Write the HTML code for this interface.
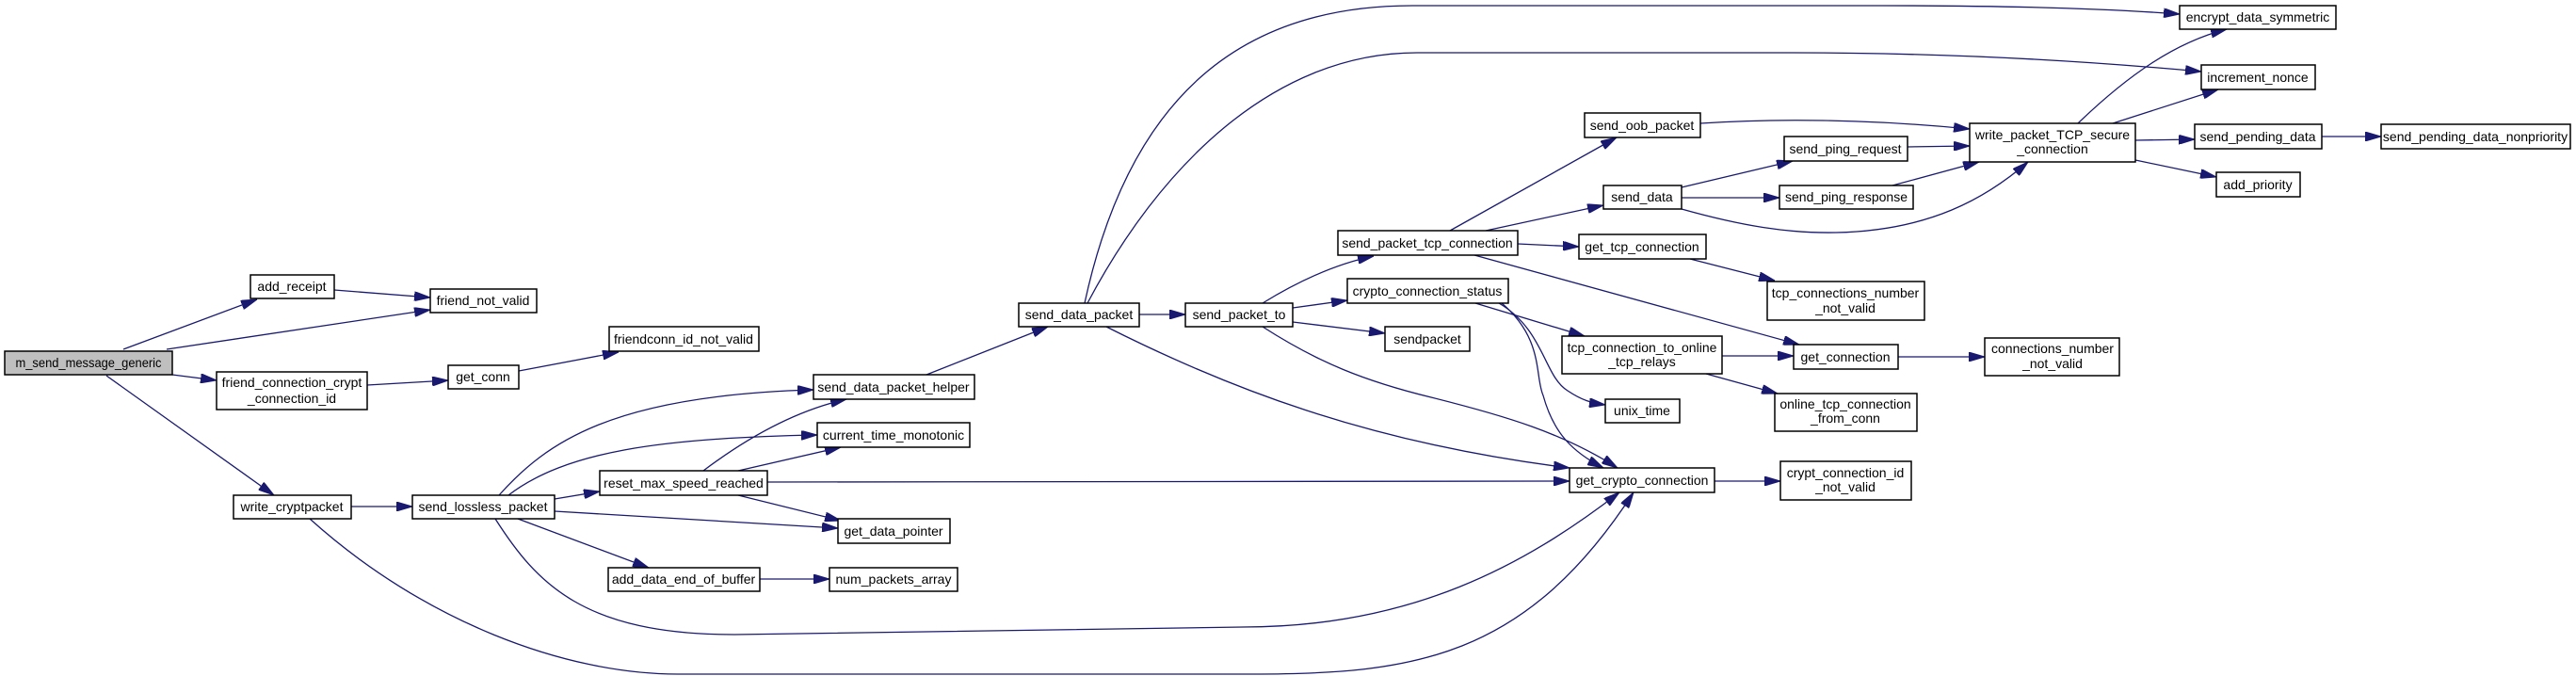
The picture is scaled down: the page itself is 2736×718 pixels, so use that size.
<!DOCTYPE html>
<html><head><meta charset="utf-8"><style>
html,body{margin:0;padding:0;background:#fff;}
svg{display:block;}
text{font-family:"Liberation Sans",sans-serif;font-size:14px;fill:#000;}
.n{fill:#fff;stroke:#000;stroke-width:1.5;}
.e{fill:none;stroke:#191970;stroke-width:1.3;marker-end:url(#a);}
</style></head><body>
<svg width="2736" height="718" viewBox="0 0 2736 718" xmlns="http://www.w3.org/2000/svg">
<defs><marker id="a" markerUnits="userSpaceOnUse" markerWidth="17" markerHeight="10" refX="17" refY="5" orient="auto"><path d="M0,0 L17,5 L0,10 z" fill="#191970" stroke="#191970"/></marker></defs>
<g>
<path class="e" d="M131,371 L273,318"/>
<path class="e" d="M177,371 L457,329"/>
<path class="e" d="M355,308 L457,316"/>
<path class="e" d="M183,398 L230,404"/>
<path class="e" d="M390,409 L476,404"/>
<path class="e" d="M551,394 L657,374"/>
<path class="e" d="M113,399 L291,526"/>
<path class="e" d="M373,538 L438,538"/>
<path class="e" d="M329,551 C450,660 600,716 720,716 L1330,716 C1500,716 1620,700 1735,523"/>
<path class="e" d="M526,551 C570,620 620,674 780,674 L1320,666 C1500,666 1620,600 1720,523"/>
<path class="e" d="M530,526 C580,470 650,420 864,414"/>
<path class="e" d="M540,526 C600,480 700,465 868,462"/>
<path class="e" d="M589,530 L637,522"/>
<path class="e" d="M589,543 L890,561"/>
<path class="e" d="M550,551 L689,603"/>
<path class="e" d="M747,500 C800,460 850,435 899,424"/>
<path class="e" d="M784,500 L893,475"/>
<path class="e" d="M784,526 L893,553"/>
<path class="e" d="M815,512 L1667,511"/>
<path class="e" d="M807,615 L881,615"/>
<path class="e" d="M984,398 L1113,347"/>
<path class="e" d="M1210,334 L1259,334"/>
<path class="e" d="M1175,347 C1300,410 1450,470 1667,497"/>
<path class="e" d="M1152,322 C1200,100 1320,6 1500,6 L2000,6 C2150,6 2250,10 2315,15"/>
<path class="e" d="M1155,322 C1230,180 1350,56 1505,56 L1900,56 C2100,56 2250,68 2338,76"/>
<path class="e" d="M1341,322 C1380,298 1420,280 1459,272"/>
<path class="e" d="M1373,327 L1431,319"/>
<path class="e" d="M1373,342 L1471,354"/>
<path class="e" d="M1341,347 C1400,385 1450,405 1520,422 C1600,442 1660,460 1718,497"/>
<path class="e" d="M1567,322 L1683,357"/>
<path class="e" d="M1592,322 C1640,350 1640,400 1665,415 C1680,425 1690,428 1705,430"/>
<path class="e" d="M1595,322 C1640,360 1630,400 1639,420 C1650,460 1670,480 1703,497"/>
<path class="e" d="M1540,245 L1717,146"/>
<path class="e" d="M1578,245 L1703,218"/>
<path class="e" d="M1612,259 L1677,262"/>
<path class="e" d="M1566,271 L1911,366"/>
<path class="e" d="M1806,131 C1900,125 2000,128 2092,137"/>
<path class="e" d="M1786,199 L1904,171"/>
<path class="e" d="M1786,210 L1890,210"/>
<path class="e" d="M1786,222 C1850,240 1900,248 1950,247 C2050,245 2110,210 2154,172"/>
<path class="e" d="M2026,156 L2092,155"/>
<path class="e" d="M2010,197 L2102,172"/>
<path class="e" d="M1795,275 L1885,298"/>
<path class="e" d="M1829,378 L1905,378"/>
<path class="e" d="M1812,397 L1888,418"/>
<path class="e" d="M2016,379 L2108,379"/>
<path class="e" d="M1821,511 L1891,511"/>
<path class="e" d="M2207,131 C2260,80 2310,45 2365,31"/>
<path class="e" d="M2244,131 L2356,95"/>
<path class="e" d="M2268,149 L2331,148"/>
<path class="e" d="M2268,170 L2354,188"/>
<path class="e" d="M2466,145 L2529,145"/>
</g>
<g>
<rect x="5" y="373" width="178" height="25" style="fill:#bfbfbf;stroke:#000;stroke-width:1.5"/><text x="94" y="390" text-anchor="middle" textLength="155" lengthAdjust="spacingAndGlyphs">m_send_message_generic</text>
<rect class="n" x="266" y="292" width="89" height="25"/><text x="310" y="309" text-anchor="middle">add_receipt</text>
<rect class="n" x="457" y="307" width="113" height="25"/><text x="513" y="324" text-anchor="middle">friend_not_valid</text>
<rect class="n" x="647" y="347" width="159" height="26"/><text x="726" y="365" text-anchor="middle">friendconn_id_not_valid</text>
<rect class="n" x="230" y="395" width="160" height="40"/><text x="310" y="411" text-anchor="middle">friend_connection_crypt</text><text x="310" y="428" text-anchor="middle">_connection_id</text>
<rect class="n" x="476" y="388" width="75" height="25"/><text x="513" y="405" text-anchor="middle">get_conn</text>
<rect class="n" x="248" y="526" width="125" height="25"/><text x="310" y="543" text-anchor="middle">write_cryptpacket</text>
<rect class="n" x="438" y="526" width="151" height="25"/><text x="513" y="543" text-anchor="middle">send_lossless_packet</text>
<rect class="n" x="637" y="500" width="178" height="26"/><text x="726" y="518" text-anchor="middle">reset_max_speed_reached</text>
<rect class="n" x="646" y="603" width="161" height="25"/><text x="726" y="620" text-anchor="middle">add_data_end_of_buffer</text>
<rect class="n" x="864" y="398" width="171" height="26"/><text x="949" y="416" text-anchor="middle">send_data_packet_helper</text>
<rect class="n" x="868" y="449" width="162" height="26"/><text x="949" y="467" text-anchor="middle">current_time_monotonic</text>
<rect class="n" x="890" y="551" width="119" height="26"/><text x="949" y="569" text-anchor="middle">get_data_pointer</text>
<rect class="n" x="881" y="603" width="136" height="25"/><text x="949" y="620" text-anchor="middle">num_packets_array</text>
<rect class="n" x="1082" y="322" width="128" height="25"/><text x="1146" y="339" text-anchor="middle">send_data_packet</text>
<rect class="n" x="1259" y="322" width="114" height="25"/><text x="1316" y="339" text-anchor="middle">send_packet_to</text>
<rect class="n" x="1421" y="245" width="191" height="26"/><text x="1516" y="263" text-anchor="middle">send_packet_tcp_connection</text>
<rect class="n" x="1431" y="296" width="171" height="26"/><text x="1516" y="314" text-anchor="middle">crypto_connection_status</text>
<rect class="n" x="1471" y="347" width="90" height="26"/><text x="1516" y="365" text-anchor="middle">sendpacket</text>
<rect class="n" x="1683" y="120" width="123" height="26"/><text x="1744" y="138" text-anchor="middle">send_oob_packet</text>
<rect class="n" x="1703" y="197" width="83" height="25"/><text x="1744" y="214" text-anchor="middle">send_data</text>
<rect class="n" x="1677" y="249" width="135" height="26"/><text x="1744" y="267" text-anchor="middle">get_tcp_connection</text>
<rect class="n" x="1659" y="357" width="170" height="40"/><text x="1744" y="374" text-anchor="middle">tcp_connection_to_online</text><text x="1744" y="389" text-anchor="middle">_tcp_relays</text>
<rect class="n" x="1705" y="424" width="79" height="25"/><text x="1744" y="441" text-anchor="middle">unix_time</text>
<rect class="n" x="1667" y="497" width="154" height="26"/><text x="1744" y="515" text-anchor="middle">get_crypto_connection</text>
<rect class="n" x="2315" y="6" width="166" height="25"/><text x="2398" y="23" text-anchor="middle">encrypt_data_symmetric</text>
<rect class="n" x="2338" y="69" width="121" height="26"/><text x="2398" y="87" text-anchor="middle">increment_nonce</text>
<rect class="n" x="2092" y="131" width="176" height="41"/><text x="2180" y="148" text-anchor="middle">write_packet_TCP_secure</text><text x="2180" y="163" text-anchor="middle">_connection</text>
<rect class="n" x="1895" y="145" width="131" height="26"/><text x="1960" y="163" text-anchor="middle">send_ping_request</text>
<rect class="n" x="1890" y="197" width="142" height="25"/><text x="1961" y="214" text-anchor="middle">send_ping_response</text>
<rect class="n" x="2331" y="132" width="135" height="26"/><text x="2398" y="150" text-anchor="middle">send_pending_data</text>
<rect class="n" x="2529" y="132" width="201" height="26"/><text x="2629" y="150" text-anchor="middle">send_pending_data_nonpriority</text>
<rect class="n" x="2354" y="183" width="89" height="26"/><text x="2398" y="201" text-anchor="middle">add_priority</text>
<rect class="n" x="1877" y="299" width="167" height="41"/><text x="1960" y="316" text-anchor="middle">tcp_connections_number</text><text x="1960" y="332" text-anchor="middle">_not_valid</text>
<rect class="n" x="1905" y="366" width="111" height="26"/><text x="1960" y="384" text-anchor="middle">get_connection</text>
<rect class="n" x="2108" y="359" width="143" height="40"/><text x="2180" y="375" text-anchor="middle">connections_number</text><text x="2180" y="391" text-anchor="middle">_not_valid</text>
<rect class="n" x="1885" y="418" width="151" height="40"/><text x="1960" y="434" text-anchor="middle">online_tcp_connection</text><text x="1960" y="449" text-anchor="middle">_from_conn</text>
<rect class="n" x="1891" y="490" width="139" height="41"/><text x="1960" y="507" text-anchor="middle">crypt_connection_id</text><text x="1960" y="522" text-anchor="middle">_not_valid</text>
</g>
</svg>
</body></html>
